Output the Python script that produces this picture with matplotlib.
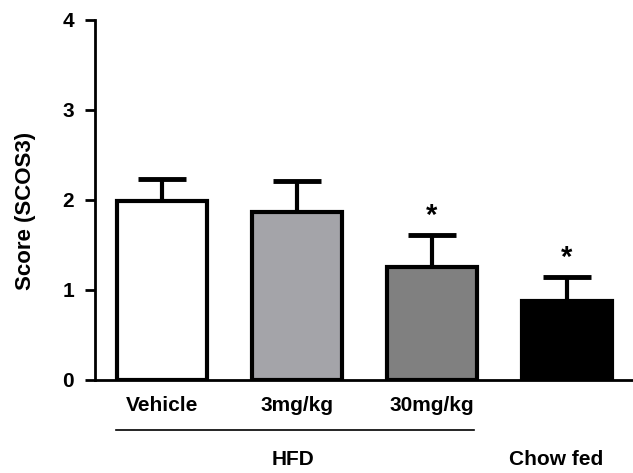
import numpy as np
import matplotlib.pyplot as plt

plt.rcParams['font.family'] = ['Liberation Sans', 'DejaVu Sans']
plt.rcParams['font.weight'] = 'bold'

groups = ["Vehicle", "3mg/kg", "30mg/kg", "Chow fed"]
scores = [1.99, 1.87, 1.25, 0.88]
sem = [0.24, 0.34, 0.36, 0.26]
significant = [False, False, True, True]
colors = ["#ffffff", "#a4a4a9", "#808080", "#000000"]

fig = plt.figure(figsize=(6.33, 4.73), dpi=100)
ax = fig.add_axes([0.150, 0.197, 0.850, 0.761])

x = np.arange(len(groups))
ax.bar(x, scores, width=0.667, color=colors, edgecolor="black", linewidth=3, zorder=2)
ax.errorbar(x, scores, yerr=[np.zeros(len(sem)), sem], fmt="none", ecolor="black",
            elinewidth=3, capsize=17, capthick=3.5, zorder=1)

for i in range(len(groups)):
    if significant[i]:
        ax.text(x[i], scores[i] + sem[i] + 0.06, "*", ha="center", va="bottom",
                fontsize=21, fontweight="bold")

ax.set_xlim(-0.496, 3.489)
ax.set_ylim(0, 4)
ax.set_yticks([0, 1, 2, 3, 4])
ax.set_xticks([])
ax.tick_params(axis="y", labelsize=15, width=2, length=7, pad=8)
for s in ["top", "right"]:
    ax.spines[s].set_visible(False)
ax.spines["left"].set_linewidth(2)
ax.spines["bottom"].set_linewidth(2)
ax.set_ylabel("Score (SCOS3)", fontsize=16, fontweight="bold")
ax.yaxis.set_label_coords(-0.11, 0.47)

# group labels under the bars
trans = ax.get_xaxis_transform()
for i in range(3):
    ax.text(x[i], -0.07, groups[i], transform=trans, ha="center", va="center",
            fontsize=15, fontweight="bold")
ax.plot([-0.34, 2.31], [-0.14, -0.14], transform=trans, color="black", lw=1.2, clip_on=False)
ax.text(0.97, -0.22, "HFD", transform=trans, ha="center", va="center",
        fontsize=15, fontweight="bold")
ax.text(2.92, -0.22, groups[3], transform=trans, ha="center", va="center",
        fontsize=15, fontweight="bold")

fig.savefig("out.png", dpi=100)
